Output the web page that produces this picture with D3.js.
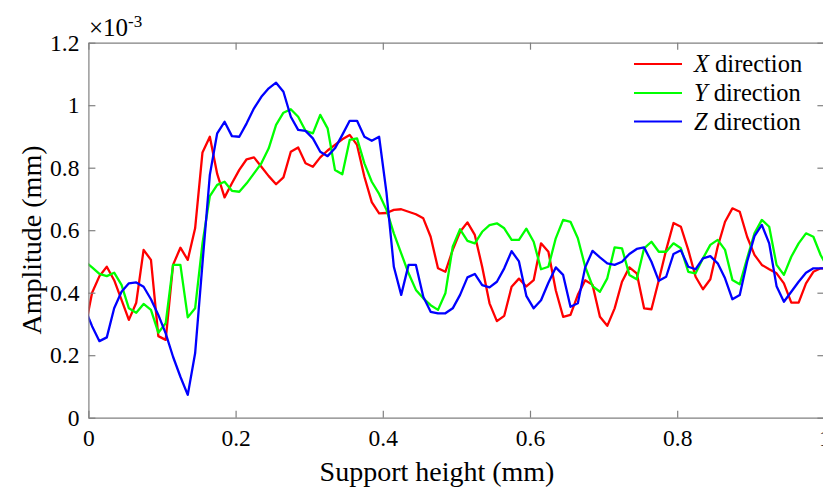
<!DOCTYPE html>
<html><head><meta charset="utf-8">
<script src="https://cdn.jsdelivr.net/npm/d3@7"></script>
<style>
body{margin:0;background:#fff}
text{font-family:"Liberation Serif","Times New Roman",serif;fill:#000}
</style>
</head><body>
<svg id="c" width="823" height="488"></svg>
<script>
// x positions: first sample and step (mm)
const xStart = -0.005, xStep = 0.01;
// amplitudes in units of 1e-3 mm
const xDirection = [0.28,0.40,0.453,0.483,0.44,0.377,0.313,0.368,0.537,0.505,
0.261,0.249,0.489,0.544,0.505,0.606,0.849,0.899,0.78,0.705,
0.75,0.793,0.827,0.833,0.803,0.773,0.747,0.769,0.851,0.865,
0.814,0.803,0.833,0.855,0.873,0.891,0.905,0.873,0.771,0.69,
0.654,0.655,0.665,0.667,0.659,0.651,0.638,0.579,0.478,0.467,
0.537,0.595,0.625,0.585,0.483,0.366,0.309,0.326,0.419,0.445,
0.42,0.44,0.558,0.531,0.408,0.323,0.329,0.393,0.44,0.425,
0.323,0.294,0.35,0.435,0.481,0.462,0.35,0.347,0.44,0.537,
0.623,0.611,0.537,0.451,0.411,0.443,0.547,0.627,0.67,0.659,
0.579,0.521,0.489,0.475,0.462,0.43,0.368,0.368,0.43,0.467,
0.478,0.478];
const yDirection = [0.50,0.481,0.46,0.453,0.464,0.425,0.35,0.336,0.364,0.345,
0.272,0.302,0.489,0.489,0.321,0.35,0.558,0.709,0.745,0.755,
0.726,0.723,0.75,0.782,0.814,0.862,0.937,0.976,0.987,0.963,
0.918,0.91,0.969,0.926,0.793,0.779,0.889,0.894,0.814,0.755,
0.716,0.665,0.59,0.526,0.462,0.409,0.382,0.36,0.345,0.398,
0.547,0.603,0.566,0.558,0.595,0.616,0.622,0.606,0.569,0.569,
0.605,0.563,0.475,0.483,0.574,0.633,0.627,0.574,0.483,0.421,
0.403,0.446,0.545,0.542,0.457,0.443,0.542,0.563,0.531,0.531,
0.558,0.542,0.467,0.462,0.51,0.553,0.569,0.537,0.441,0.427,
0.51,0.59,0.633,0.611,0.489,0.457,0.515,0.558,0.59,0.579,
0.52,0.478];
const zDirection = [0.35,0.293,0.245,0.257,0.35,0.403,0.43,0.433,0.419,0.379,
0.329,0.27,0.195,0.131,0.073,0.206,0.494,0.777,0.91,0.947,
0.901,0.899,0.942,0.99,1.027,1.054,1.072,1.043,0.963,0.921,
0.918,0.894,0.851,0.837,0.862,0.905,0.95,0.95,0.899,0.886,
0.899,0.72,0.483,0.393,0.489,0.489,0.387,0.339,0.334,0.334,
0.35,0.393,0.449,0.46,0.424,0.417,0.435,0.478,0.533,0.50,
0.39,0.35,0.376,0.432,0.481,0.457,0.355,0.366,0.481,0.534,
0.513,0.494,0.489,0.499,0.524,0.54,0.545,0.499,0.438,0.451,
0.524,0.536,0.483,0.475,0.51,0.517,0.494,0.446,0.379,0.393,
0.499,0.581,0.617,0.558,0.421,0.371,0.403,0.435,0.464,0.478,
0.478,0.478];
const seriesLabels = ["X","Y","Z"];
const seriesColors = ["#ff0000","#00ff00","#0000ff"];
const xTicks = [0,0.2,0.4,0.6,0.8,1];
const yTicks = [0,0.2,0.4,0.6,0.8,1,1.2];
const xLabel = "Support height (mm)";
const yLabel = "Amplitude (mm)";

const svg = d3.select("#c");
const L = 88.4, R = 824.4, T = 42.7, B = 417.7;
const x = d3.scaleLinear().domain([0,1]).range([L,R]);
const y = d3.scaleLinear().domain([0,1.2]).range([B,T]);
const fmt = d => String(+d.toFixed(1));
const axisColor = "#808080";

svg.append("defs").append("clipPath").attr("id","clip")
  .append("rect").attr("x",L).attr("y",T).attr("width",R-L).attr("height",B-T);

const series = [xDirection, yDirection, zDirection];
const line = d3.line().x((d,i)=>x(xStart + i*xStep)).y(d=>y(d));
const g = svg.append("g").attr("clip-path","url(#clip)");
series.forEach((s,j)=>{
  g.append("path").datum(s).attr("d",line).attr("fill","none")
   .attr("stroke",seriesColors[j]).attr("stroke-width",2.3).attr("stroke-linejoin","round");
});

function styleAxis(sel, showText){
  sel.attr("font-family",null).attr("font-size",null);
  sel.select(".domain").attr("stroke",axisColor).attr("stroke-width",1.2);
  sel.selectAll(".tick line").attr("stroke",axisColor).attr("stroke-width",1.2);
  sel.selectAll(".tick text").style("font-size","23.5px").attr("fill","#000")
     .style("font-family",'"Liberation Serif","Times New Roman",serif');
  if(!showText) sel.selectAll(".tick text").remove();
}
const ax = svg.append("g").attr("transform",`translate(0,${B})`)
  .call(d3.axisBottom(x).tickValues(xTicks).tickFormat(fmt).tickSizeInner(-7).tickSizeOuter(0).tickPadding(12));
styleAxis(ax,true);
const axT = svg.append("g").attr("transform",`translate(0,${T})`)
  .call(d3.axisTop(x).tickValues(xTicks).tickSizeInner(-7).tickSizeOuter(0));
styleAxis(axT,false);
const ay = svg.append("g").attr("transform",`translate(${L},0)`)
  .call(d3.axisLeft(y).tickValues(yTicks).tickFormat(fmt).tickSizeInner(-7).tickSizeOuter(0).tickPadding(9));
styleAxis(ay,true);
const ayR = svg.append("g").attr("transform",`translate(${R},0)`)
  .call(d3.axisRight(y).tickValues(yTicks).tickSizeInner(-7).tickSizeOuter(0));
styleAxis(ayR,false);

// exponent
const ex = svg.append("text").attr("x",89).attr("y",36).style("font-size","25px");
ex.append("tspan").text("\u00d710");
ex.append("tspan").attr("dy",-9).style("font-size","17px").text("-3");

// labels
svg.append("text").attr("x",437).attr("y",481).attr("text-anchor","middle")
  .style("font-size","28px").text(xLabel);
svg.append("text").attr("transform","translate(41,240) rotate(-90)").attr("text-anchor","middle")
  .style("font-size","28px").text(yLabel);

// legend
const legY = [64, 93, 121.5];
seriesLabels.forEach((lab,j)=>{
  svg.append("line").attr("x1",634).attr("x2",682).attr("y1",legY[j]).attr("y2",legY[j])
    .attr("stroke",seriesColors[j]).attr("stroke-width",2);
  const t = svg.append("text").attr("x",694).attr("y",legY[j]+8).style("font-size","24.5px");
  t.append("tspan").style("font-style","italic").text(lab);
  t.append("tspan").text(" direction");
});
</script>
</body></html>
